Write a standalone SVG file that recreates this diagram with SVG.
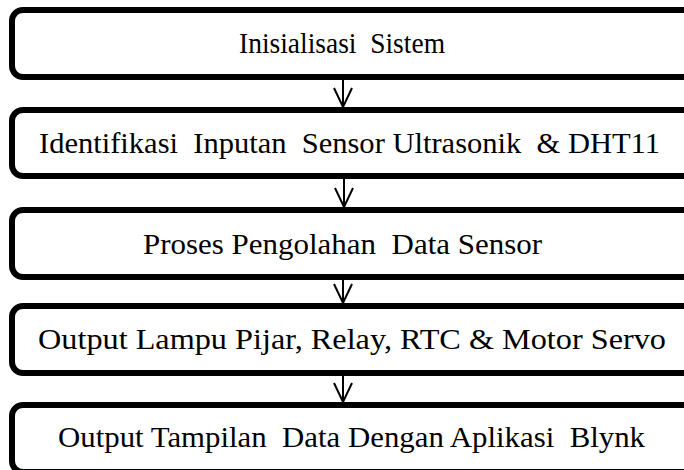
<svg xmlns="http://www.w3.org/2000/svg" width="684" height="470" viewBox="0 0 684 470">
<defs>
<style>
.box{fill:#fff;stroke:#000;stroke-width:6}
.t{font-family:'Liberation Serif','Times New Roman',Times,serif;font-size:29px;fill:#000;white-space:pre}
.c{fill:none;stroke:#000;stroke-width:2}
</style>
</defs>
<rect width="684" height="470" fill="#fff"/>
<g id="connectors">
<path class="c" d="M343,80 V107"/>
<path class="c" d="M344,179 V207"/>
<path class="c" d="M343,280 V303"/>
<path class="c" d="M343,376 V402"/>
<path d="M334,88 L343,107 L352,88" class="c"/>
<path d="M335,188 L344,207 L353,188" class="c"/>
<path d="M334,284 L343,303 L352,284" class="c"/>
<path d="M334,383 L343,402 L352,383" class="c"/>
</g>
<g id="n1">
<rect class="box" x="12" y="10" width="686" height="67" rx="11"/>
<text class="t" xml:space="preserve" x="239" y="53" textLength="206" lengthAdjust="spacingAndGlyphs">Inisialisasi  Sistem</text>
</g>
<g id="n2">
<rect class="box" x="12" y="110" width="686" height="66" rx="11"/>
<text class="t" xml:space="preserve" x="39" y="153" textLength="621" lengthAdjust="spacingAndGlyphs">Identifikasi  Inputan  Sensor Ultrasonik  &amp; DHT11</text>
</g>
<g id="n3">
<rect class="box" x="12" y="210" width="686" height="67" rx="11"/>
<text class="t" xml:space="preserve" x="143" y="254" textLength="399" lengthAdjust="spacingAndGlyphs">Proses Pengolahan  Data Sensor</text>
</g>
<g id="n4">
<rect class="box" x="12" y="306" width="686" height="67" rx="11"/>
<text class="t" xml:space="preserve" x="38" y="349" textLength="628" lengthAdjust="spacingAndGlyphs">Output Lampu Pijar, Relay, RTC &amp; Motor Servo</text>
</g>
<g id="n5">
<rect class="box" x="12" y="405" width="686" height="67" rx="11"/>
<text class="t" xml:space="preserve" x="58" y="447" textLength="587" lengthAdjust="spacingAndGlyphs">Output Tampilan  Data Dengan Aplikasi  Blynk</text>
</g>
</svg>
